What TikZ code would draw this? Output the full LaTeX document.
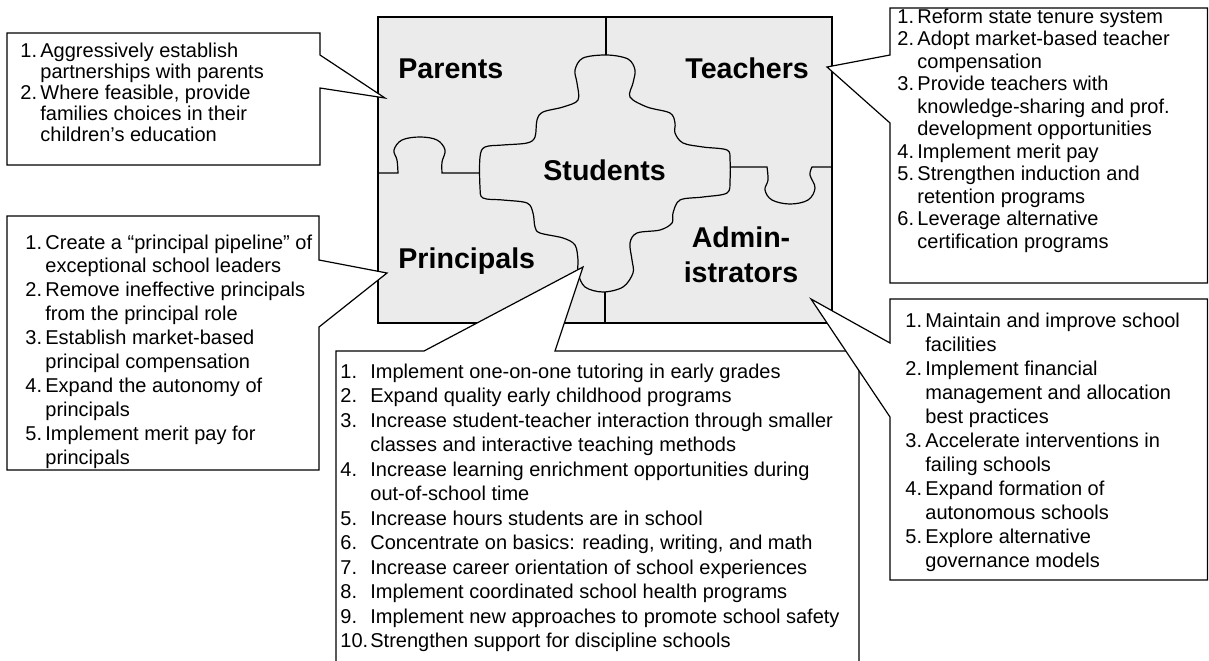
\documentclass[tikz,border=0pt]{standalone}
\usepackage{fontspec}
\setmainfont{Liberation Sans}
\usepackage{array}
\definecolor{grigio}{HTML}{EBEBEB}

\begin{document}
\begin{tikzpicture}[x=0.5pt,y=-0.5pt,
        pezzo/.style={draw=black,line width=0.6pt,fill=grigio},
        bordo/.style={draw=black,line width=0.6pt},
        fumetto/.style={draw=black,line width=0.6pt,fill=white,line join=miter},
        titolo/.style={font=\fontsize{14.3}{17.5}\selectfont\bfseries,inner sep=0pt},
        elenco/.style={inner sep=0pt,anchor=base west}]
    \useasboundingbox (0,0) rectangle (1209,660);
    \clip (0,0) rectangle (1209,660);

    %%%%%%%%%% Puzzle %%%%%%%%%%
    \draw[pezzo] (378,17) rectangle (832,323);
    \draw[bordo] (606,17) -- (606,62);
    \draw[bordo] (605,285) -- (605,323);
    \draw[bordo] (378,173) -- plot[smooth,tension=0.6] coordinates {(398,173) (397,160) (394,150) (402,140) (420,137) (437,140) (445,150) (442,162) (442,173)} -- (486,173);
    \draw[bordo] (724,167) -- plot[smooth,tension=0.6] coordinates {(767,167) (768,180) (765,190) (772,200) (790,204) (808,200) (815,188) (810,175) (812,167)} -- (832,167);
    \draw[pezzo] plot[smooth cycle,tension=0.55] coordinates {
        (607,55) (628,59) (635,70) (633,83) (630,97) (647,107) (670,113)
        (675,123) (675,133) (683,143) (703,147) (727,150) (730,160) (730,180)
        (727,193) (703,197) (680,200) (673,213) (672,223) (660,230) (637,233)
        (630,243) (632,260) (633,273) (623,287) (603,292) (585,287) (578,273)
        (578,260) (575,245) (563,238) (540,233) (535,227) (533,213) (527,203)
        (503,200) (483,198) (480,187) (480,157) (485,147) (503,145) (527,143)
        (535,137) (537,120) (543,112) (563,107) (578,100) (577,83) (575,70)
        (583,58)};

    %%%%%%%%%% Nomi %%%%%%%%%%
    \node[titolo,anchor=base west] (genitori) at (398,78) {Parents};
    \node[titolo,anchor=base west] (insegnanti) at (685,78) {Teachers};
    \node[titolo,anchor=base west] (studenti) at (543,180) {Students};
    \node[titolo,anchor=base west] (presidi) at (398,268) {Principals};
    \node[titolo,align=center,anchor=base] (amministratori) at (741,282) {Admin-\\istrators};

    %%%%%%%%%% Punte %%%%%%%%%%
    \coordinate (puntaGen) at (385,98);
    \coordinate (puntaIns) at (827,67);
    \coordinate (puntaPre) at (387,273);
    \coordinate (puntaStu) at (583,267);
    \coordinate (puntaAmm) at (811,299);

    %%%%%%%%%% Riquadri %%%%%%%%%%
    \draw[fumetto] (7,33) -- (320,33) -- (320,55) -- (puntaGen) -- (320,88) -- (320,165) -- (7,165) -- cycle;
    \draw[fumetto] (890,8) -- (1207.5,8) -- (1207.5,283) -- (890,283) -- (890,123) -- (puntaIns) -- (890,55) -- cycle;
    \draw[fumetto] (7,216) -- (319,216) -- (319,260) -- (puntaPre) -- (319,327) -- (319,470) -- (7,470) -- cycle;
    \draw[fumetto] (336,680) -- (336,351) -- (424,351) -- (puntaStu) -- (555,351) -- (859,351) -- (859,680);
    \draw[fumetto] (890,299) -- (1207.5,299) -- (1207.5,580) -- (890,580) -- (890,417) -- (puntaAmm) -- (890,343) -- cycle;

    %%%%%%%%%% Elenchi %%%%%%%%%%
    \node[elenco,font=\fontsize{10}{10.6}\selectfont] (listaGen) at (20,57) {%
        \begin{tabular}[t]{@{}p{10pt}@{}l@{}}
            1. & Aggressively establish\\
               & partnerships with parents\\
            2. & Where feasible, provide\\
               & families choices in their\\
               & children’s education
        \end{tabular}};
    \node[elenco,font=\fontsize{10}{11.25}\selectfont] (listaIns) at (897,23) {%
        \begin{tabular}[t]{@{}p{10pt}@{}l@{}}
            1. & Reform state tenure system\\
            2. & Adopt market-based teacher\\
               & compensation\\
            3. & Provide teachers with\\
               & knowledge-sharing and prof.\\
               & development opportunities\\
            4. & Implement merit pay\\
            5. & Strengthen induction and\\
               & retention programs\\
            6. & Leverage alternative\\
               & certification programs
        \end{tabular}};
    \node[elenco,font=\fontsize{10}{11.95}\selectfont] (listaPre) at (25,249) {%
        \begin{tabular}[t]{@{}p{10pt}@{}l@{}}
            1. & Create a “principal pipeline” of\\
               & exceptional school leaders\\
            2. & Remove ineffective principals\\
               & from the principal role\\
            3. & Establish market-based\\
               & principal compensation\\
            4. & Expand the autonomy of\\
               & principals\\
            5. & Implement merit pay for\\
               & principals
        \end{tabular}};
    \node[elenco,font=\fontsize{10}{12}\selectfont] (listaAmm) at (905,327) {%
        \begin{tabular}[t]{@{}p{10pt}@{}l@{}}
            1. & Maintain and improve school\\
               & facilities\\
            2. & Implement financial\\
               & management and allocation\\
               & best practices\\
            3. & Accelerate interventions in\\
               & failing schools\\
            4. & Expand formation of\\
               & autonomous schools\\
            5. & Explore alternative\\
               & governance models
        \end{tabular}};
    \node[elenco,font=\fontsize{10}{12.25}\selectfont] (listaStu) at (340,378) {%
        \begin{tabular}[t]{@{}p{15pt}@{}l@{}}
            1.  & Implement one-on-one tutoring in early grades\\
            2.  & Expand quality early childhood programs\\
            3.  & Increase student-teacher interaction through smaller\\
                & classes and interactive teaching methods\\
            4.  & Increase learning enrichment opportunities during\\
                & out-of-school time\\
            5.  & Increase hours students are in school\\
            6.  & Concentrate on basics: reading, writing, and math\\
            7.  & Increase career orientation of school experiences\\
            8.  & Implement coordinated school health programs\\
            9.  & Implement new approaches to promote school safety\\
            10. & Strengthen support for discipline schools
        \end{tabular}};
\end{tikzpicture}
\end{document}
